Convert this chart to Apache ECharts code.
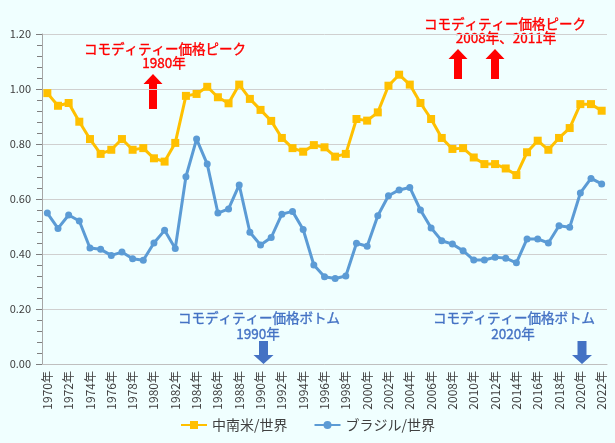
<!DOCTYPE html>
<html><head><meta charset="utf-8">
<script src="https://cdn.jsdelivr.net/npm/echarts@6/dist/echarts.min.js"></script>
<style>html,body{margin:0;padding:0;background:#F0FFFF;}#c{width:615px;height:443px;}</style>
</head><body><div id="c"></div>
<script>
const years = [];
for (let y = 1970; y <= 2022; y++) years.push(y + '年');
const latamWorld = [0.985,0.939,0.949,0.881,0.818,0.764,0.779,0.818,0.779,0.785,0.748,0.736,0.804,0.975,0.982,1.008,0.970,0.948,1.016,0.964,0.924,0.884,0.822,0.785,0.772,0.796,0.788,0.754,0.764,0.891,0.885,0.915,1.012,1.052,1.016,0.949,0.891,0.822,0.782,0.785,0.751,0.727,0.727,0.711,0.687,0.770,0.812,0.779,0.822,0.858,0.945,0.945,0.921];
const brazilWorld = [0.549,0.493,0.542,0.520,0.422,0.417,0.395,0.407,0.383,0.377,0.440,0.486,0.420,0.681,0.818,0.727,0.549,0.564,0.651,0.479,0.433,0.460,0.545,0.555,0.489,0.360,0.317,0.311,0.320,0.439,0.428,0.539,0.612,0.633,0.642,0.560,0.495,0.448,0.436,0.412,0.378,0.378,0.388,0.385,0.368,0.455,0.455,0.440,0.503,0.497,0.622,0.675,0.655];
const seriesNames = ['中南米/世界', 'ブラジル/世界'];
const peakLabel = 'コモディティー価格ピーク';
const bottomLabel = 'コモディティー価格ボトム';

const FONT = '"Noto Sans CJK JP", "Noto Sans", sans-serif';
const RED = '#FF0000', BLUE = '#4472C4';

function upArrow(cx, top, len, color) {
  return { type: 'polygon', shape: { points: [[cx, top],[cx+9.5, top+10],[cx+4, top+10],[cx+4, top+len],[cx-4, top+len],[cx-4, top+10],[cx-9.5, top+10]] }, style: { fill: color } };
}
function downArrow(cx, top, color) {
  return { type: 'polygon', shape: { points: [[cx-4.5, top],[cx+4.5, top],[cx+4.5, top+14],[cx+10, top+14],[cx, top+23],[cx-10, top+14],[cx-4.5, top+14]] }, style: { fill: color } };
}
function label(x, y, text, color) {
  return { type: 'text', x: x, y: y, style: { text: text, fill: color, font: '13.5px ' + FONT, textAlign: 'center', textVerticalAlign: 'middle', stroke: color, lineWidth: 0.35 } };
}

const chart = echarts.init(document.getElementById('c'));
chart.setOption({
  backgroundColor: '#F0FFFF',
  animation: false,
  grid: { left: 42, right: 8, top: 34, bottom: 79 },
  legend: {
    bottom: 6, left: 'center', itemGap: 26, itemWidth: 26, itemHeight: 10,
    textStyle: { fontFamily: FONT, fontSize: 14, color: '#404040' },
    data: seriesNames
  },
  xAxis: {
    type: 'category', data: years, boundaryGap: true,
    axisLine: { lineStyle: { color: '#BFBFBF' } },
    axisTick: { show: false },
    axisLabel: { rotate: 90, interval: 1, fontFamily: FONT, fontSize: 12, color: '#404040', margin: 7 }
  },
  yAxis: {
    type: 'value', min: 0, max: 1.2, interval: 0.2,
    axisLine: { show: true, lineStyle: { color: '#A6A6A6' } },
    axisTick: { show: true, inside: false, length: 6, lineStyle: { color: '#7F7F7F', width: 1 } },
    minorTick: { show: true, splitNumber: 5, length: 5, lineStyle: { color: '#7F7F7F', width: 1 } },
    splitLine: { lineStyle: { color: '#D0D0D0' } },
    axisLabel: { formatter: v => v.toFixed(2), fontFamily: FONT, fontSize: 11, color: '#404040', margin: 11 }
  },
  series: [
    { name: seriesNames[0], type: 'line', data: latamWorld, symbol: 'rect', symbolSize: 8, showAllSymbol: true,
      itemStyle: { color: '#FFC000' }, lineStyle: { width: 3, color: '#FFC000' } },
    { name: seriesNames[1], type: 'line', data: brazilWorld, symbol: 'circle', symbolSize: 7, showAllSymbol: true,
      itemStyle: { color: '#5B9BD5' }, lineStyle: { width: 3, color: '#5B9BD5' } }
  ],
  graphic: [
    label(165, 49, peakLabel, RED),
    label(164, 63, '1980年', RED),
    upArrow(153, 74, 35, RED),
    label(505, 24, peakLabel, RED),
    label(506, 38, '2008年、2011年', RED),
    upArrow(458, 49, 30, RED),
    upArrow(495, 49, 30, RED),
    label(259, 318, bottomLabel, BLUE),
    label(258, 334, '1990年', BLUE),
    downArrow(263.5, 341, BLUE),
    label(514, 318, bottomLabel, BLUE),
    label(513, 334, '2020年', BLUE),
    downArrow(582, 341, BLUE)
  ]
});
</script></body></html>
